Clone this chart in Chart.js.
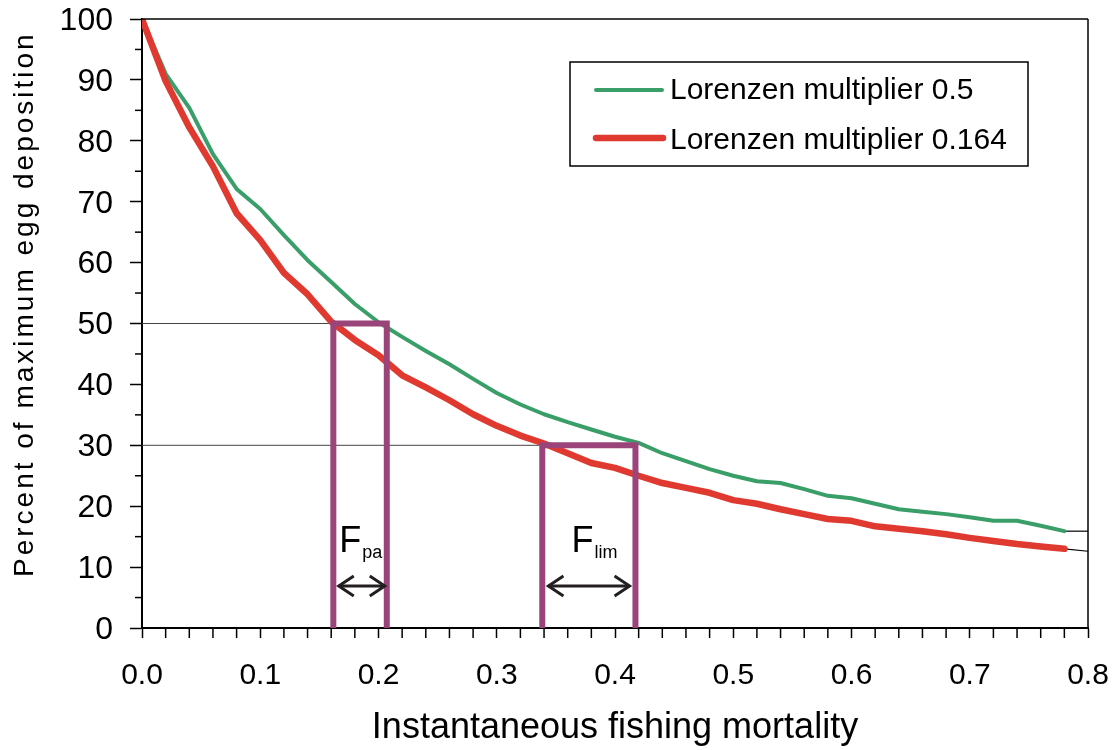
<!DOCTYPE html>
<html>
<head>
<meta charset="utf-8">
<script src="https://cdn.jsdelivr.net/npm/chart.js@4.4.0/dist/chart.umd.min.js"></script>
<style>
html,body{margin:0;padding:0;background:#fff;}
#wrap{width:1115px;height:750px;position:relative;}
</style>
</head>
<body>
<div id="wrap"><canvas id="c"></canvas></div>
<script>
// ---- data ----
const fishingMortality = [0,0.02,0.04,0.06,0.08,0.10,0.12,0.14,0.16,0.18,0.20,0.22,0.24,0.26,0.28,0.30,0.32,0.34,0.36,0.38,0.40,0.42,0.44,0.46,0.48,0.50,0.52,0.54,0.56,0.58,0.60,0.62,0.64,0.66,0.68,0.70,0.72,0.74,0.76,0.78];
const lorenzen05 = [100,91,85.4,77.8,72.1,68.8,64.5,60.4,56.8,53.2,50.2,47.8,45.5,43.3,40.9,38.6,36.7,35.1,33.8,32.6,31.4,30.4,28.7,27.4,26.1,25.0,24.1,23.8,22.8,21.7,21.3,20.4,19.5,19.1,18.7,18.2,17.6,17.6,16.8,15.9];
const lorenzen0164 = [100,89.8,82.2,75.8,68.1,63.7,58.3,54.8,50.3,47.3,44.8,41.5,39.5,37.4,35.1,33.2,31.6,30.3,28.7,27.1,26.3,25.0,23.8,23.0,22.2,21.0,20.4,19.5,18.7,17.9,17.6,16.7,16.3,15.9,15.4,14.8,14.3,13.8,13.4,13.0];
const seriesNames = ['Lorenzen multiplier 0.5','Lorenzen multiplier 0.164'];
const xTickLabels = ['0.0','0.1','0.2','0.3','0.4','0.5','0.6','0.7','0.8'];
const yTickLabels = ['0','10','20','30','40','50','60','70','80','90','100'];
const referenceLevels = [50, 30];          // % of max egg deposition
const fpaRange = [0.1618, 0.207];          // F at 50% for the two curves
const flimRange = [0.3385, 0.4173];        // F at 30% for the two curves
const leaderEnds05 = [15.9, 15.9];         // short leader line at right end
const leaderEnds0164 = [13.0, 12.6];
const arrowLevel = 6.9;
const fpaArrow = [0.1647, 0.207];
const flimArrow = [0.342, 0.414];
const xTitle = 'Instantaneous fishing mortality';
const yTitle = 'Percent of maximum egg deposition';

// ---- styles ----
const GREEN = 'rgb(58,158,104)';
const RED = 'rgb(224,58,48)';
const PURPLE = 'rgb(155,68,122)';
const FONT = "'Liberation Sans', Arial, sans-serif";

const pts = (xs, ys) => xs.map((x, i) => ({x, y: ys[i]}));
const box = (r, top) => [{x:r[0],y:0},{x:r[0],y:top},{x:r[1],y:top},{x:r[1],y:0}];

const datasets = [
  {label:'Fpa', data: box(fpaRange, referenceLevels[0]), borderColor: PURPLE, borderWidth: 6, borderJoinStyle:'miter', order: 0},
  {label:'Flim', data: box(flimRange, referenceLevels[1]), borderColor: PURPLE, borderWidth: 6, borderJoinStyle:'miter', order: 0},
  {label: seriesNames[1], data: pts(fishingMortality, lorenzen0164), borderColor: RED, borderWidth: 6.5, borderCapStyle:'round', borderJoinStyle:'round', order: 1},
  {label: seriesNames[0], data: pts(fishingMortality, lorenzen05), borderColor: GREEN, borderWidth: 4, borderCapStyle:'round', borderJoinStyle:'round', order: 2},
  {label:'ref50', data: [{x:0,y:referenceLevels[0]},{x:fpaRange[1],y:referenceLevels[0]}], borderColor:'#444', borderWidth:1, order: 3},
  {label:'ref30', data: [{x:0,y:referenceLevels[1]},{x:flimRange[1],y:referenceLevels[1]}], borderColor:'#444', borderWidth:1, order: 3},
  {label:'lead1', data: [{x:fishingMortality[fishingMortality.length-1],y:leaderEnds05[0]},{x:0.8,y:leaderEnds05[1]}], borderColor:'#000', borderWidth:1.2, order: 3},
  {label:'lead2', data: [{x:fishingMortality[fishingMortality.length-1],y:leaderEnds0164[0]},{x:0.8,y:leaderEnds0164[1]}], borderColor:'#000', borderWidth:1.2, order: 3}
].map(d => Object.assign({showLine:true, pointRadius:0, pointHoverRadius:0, tension:0, fill:false}, d));

function line(ctx, x1, y1, x2, y2){ ctx.beginPath(); ctx.moveTo(x1,y1); ctx.lineTo(x2,y2); ctx.stroke(); }

const decorPlugin = {
  id: 'decor',
  afterDraw(chart) {
    const ctx = chart.ctx, xs = chart.scales.x, ys = chart.scales.y, a = chart.chartArea;
    ctx.save();
    // frame (top/right)
    ctx.strokeStyle = '#000'; ctx.lineWidth = 1.5;
    line(ctx, a.left, a.top, a.right, a.top);
    line(ctx, a.right, a.top, a.right, a.bottom);
    // minor ticks
    ctx.lineWidth = 1.5;
    for (let k = 1; k < 40; k++) {
      if (k % 5 === 0) continue;
      const px = xs.getPixelForValue(k * 0.02);
      line(ctx, px, a.bottom, px, a.bottom + 10);
    }
    for (let k = 5; k < 100; k += 10) {
      const py = ys.getPixelForValue(k);
      line(ctx, a.left - 7, py, a.left, py);
    }
    // arrows
    const ay = ys.getPixelForValue(arrowLevel);
    ctx.strokeStyle = '#231f20'; ctx.lineWidth = 3; ctx.lineCap = 'butt'; ctx.lineJoin = 'miter';
    [fpaArrow, flimArrow].forEach(r => {
      const x1 = xs.getPixelForValue(r[0]) + 2, x2 = xs.getPixelForValue(r[1]) - 2;
      line(ctx, x1, ay, x2, ay);
      ctx.beginPath(); ctx.moveTo(x1 + 15, ay - 10); ctx.lineTo(x1, ay); ctx.lineTo(x1 + 15, ay + 10); ctx.stroke();
      ctx.beginPath(); ctx.moveTo(x2 - 15, ay - 10); ctx.lineTo(x2, ay); ctx.lineTo(x2 - 15, ay + 10); ctx.stroke();
    });
    // F labels
    ctx.fillStyle = '#000'; ctx.textBaseline = 'alphabetic'; ctx.textAlign = 'left';
    const drawF = (xv, sub) => {
      const x = xs.getPixelForValue(xv), y = ys.getPixelForValue(12.4);
      ctx.font = '36px ' + FONT; ctx.fillText('F', x, y);
      const w = ctx.measureText('F').width;
      ctx.font = '18px ' + FONT; ctx.fillText(sub, x + w + 1, y + 6);
    };
    drawF(0.1668, 'pa');
    drawF(0.3632, 'lim');
    // legend
    ctx.fillStyle = '#fff'; ctx.strokeStyle = '#000'; ctx.lineWidth = 1.5;
    ctx.fillRect(570, 62, 458, 104); ctx.strokeRect(570, 62, 458, 104);
    ctx.lineCap = 'round';
    ctx.strokeStyle = GREEN; ctx.lineWidth = 4; line(ctx, 596, 90, 662, 90);
    ctx.strokeStyle = RED; ctx.lineWidth = 6.5; line(ctx, 596, 138, 663, 138);
    ctx.fillStyle = '#000'; ctx.font = '30px ' + FONT; ctx.textBaseline = 'alphabetic';
    ctx.fillText(seriesNames[0], 670, 99);
    ctx.fillText(seriesNames[1], 670, 149);
    // y title
    ctx.translate(33, 577); ctx.rotate(-Math.PI / 2);
    ctx.font = '28px ' + FONT; ctx.letterSpacing = '3px';
    ctx.fillText(yTitle, 0, 0);
    ctx.restore();
  }
};

new Chart(document.getElementById('c'), {
  type: 'scatter',
  data: { datasets },
  options: {
    responsive: true, maintainAspectRatio: false, animation: false, events: [],
    layout: { padding: { left: 0, top: 19, right: 27, bottom: 0 } },
    plugins: { legend: { display: false }, tooltip: { enabled: false } },
    scales: {
      x: {
        type: 'linear', min: 0, max: 0.8,
        afterFit: s => { s.height = 122; s.paddingLeft = 0; s.paddingRight = 0; },
        ticks: { stepSize: 0.1, autoSkip: false, maxRotation: 0, padding: 20, color: '#000',
                 font: { family: FONT, size: 30 },
                 callback: v => xTickLabels[Math.round(v * 10)] },
        grid: { drawOnChartArea: false, drawTicks: true, tickLength: 10, tickColor: '#000', tickWidth: 1.5 },
        border: { color: '#000', width: 2 },
        title: { display: true, text: xTitle, color: '#000', font: { family: FONT, size: 36 }, padding: { top: 0, bottom: 0 } }
      },
      y: {
        min: 0, max: 100,
        afterFit: s => { s.width = 142; s.paddingTop = 0; s.paddingBottom = 0; },
        ticks: { stepSize: 10, padding: 17, labelOffset: 2, color: '#000',
                 font: { family: FONT, size: 32, lineHeight: 1 },
                 callback: v => yTickLabels[Math.round(v / 10)] },
        grid: { drawOnChartArea: false, drawTicks: true, tickLength: 12, tickColor: '#000', tickWidth: 1.5 },
        border: { color: '#000', width: 2 }
      }
    }
  },
  plugins: [decorPlugin]
});
</script>
</body>
</html>
